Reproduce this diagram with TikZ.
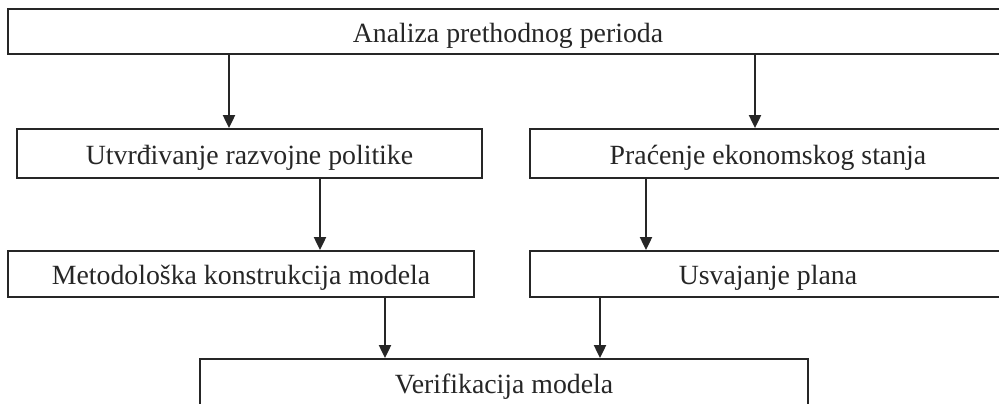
\documentclass[tikz,border=0pt]{standalone}
\usepackage{fontspec}
\setmainfont{Liberation Serif}
\usetikzlibrary{arrows.meta}
\begin{document}
\begin{tikzpicture}[x=1pt,y=-1pt,
  box/.style={draw=black!85,line width=1.8pt,rectangle,inner sep=0pt,
    text height=21.5pt,text depth=0pt,
    font=\fontsize{27.8}{30}\selectfont,text=black!85},
  arr/.style={draw=black!85,line width=2pt,-{Triangle[length=13pt,width=12pt]}}]
\useasboundingbox (0,0) rectangle (999,404);
\clip (0,0) rectangle (999,404);
\fill[white] (0,0) rectangle (999,404);
\node[box,minimum width=1000pt,minimum height=45pt] (top) at (508,31.5) {Analiza prethodnog perioda};
\node[box,minimum width=465pt,minimum height=49pt] (utv) at (249.5,153.5) {Utvrđivanje razvojne politike};
\node[box,minimum width=476pt,minimum height=49pt] (pra) at (768,153.5) {Praćenje ekonomskog stanja};
\node[box,minimum width=466pt,minimum height=46pt] (met) at (241,274) {Metodološka konstrukcija modela};
\node[box,minimum width=476pt,minimum height=46pt] (usv) at (768,274) {Usvajanje plana};
\node[box,minimum width=608pt,minimum height=48pt] (ver) at (504,383) {Verifikacija modela};
\draw[arr] (top.south -| 229,0) -- (utv.north -| 229,0);
\draw[arr] (top.south -| 755,0) -- (pra.north -| 755,0);
\draw[arr] (utv.south -| 320,0) -- (met.north -| 320,0);
\draw[arr] (pra.south -| 646,0) -- (usv.north -| 646,0);
\draw[arr] (met.south -| 385,0) -- (ver.north -| 385,0);
\draw[arr] (usv.south -| 600,0) -- (ver.north -| 600,0);
\end{tikzpicture}
\end{document}
